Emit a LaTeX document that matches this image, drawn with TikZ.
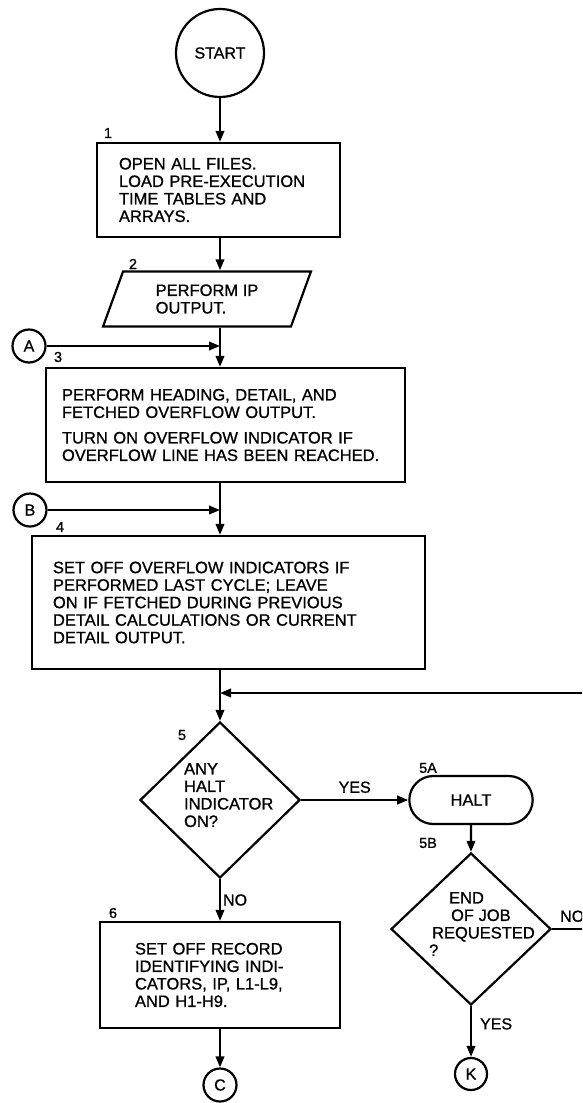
\documentclass[tikz,border=0pt]{standalone}
\usepackage{fontspec}
\setmainfont{Liberation Sans}[RawFeature={embolden=0.9}]
\usetikzlibrary{shapes.geometric}
\usetikzlibrary{shapes.misc}
\usetikzlibrary{arrows.meta}

\begin{document}
\begin{tikzpicture}[x=1pt, y=-1pt, line width=2.2pt]
    \tikzstyle flow=[-{Triangle[length=11pt,width=8.5pt]}]
    \tikzstyle process=[draw, rectangle, align=left, font=\fontsize{16.5}{17.5}\selectfont]
    \tikzstyle connector=[draw, circle, minimum size=33pt, inner sep=0pt, font=\fontsize{16}{18}\selectfont]
    \tikzstyle decision=[draw, diamond, minimum width=160pt, inner sep=0pt]
    \tikzstyle question=[align=left, anchor=north west, inner sep=0pt, font=\fontsize{16.5}{17.5}\selectfont]
    \tikzstyle stepno=[inner sep=0pt, font=\fontsize{14.5}{16}\selectfont]
    \tikzstyle answer=[inner sep=0pt, font=\fontsize{16}{18}\selectfont]
    \useasboundingbox (0,0) rectangle (582,1103);
    \clip (0,0) rectangle (582,1103);
    \coordinate (trunk) at (220,0);
    \coordinate (loopin) at (220,693);

    \node[connector, minimum size=88pt] (start) at (220,53) {START};
    \node[process, minimum height=94pt, text width=199pt, inner xsep=22pt] (openfiles) at (218.5,190)
    {OPEN ALL FILES.\\LOAD PRE-EXECUTION\\TIME TABLES AND\\ARRAYS.};
    \node[stepno] (n1) at (108,133) {1};
    \node[draw, trapezium, trapezium left angle=70, trapezium right angle=110,
      minimum width=208pt, minimum height=52pt, align=left,
      font=\fontsize{16.5}{17.5}\selectfont] (ipout) at (207,299) {PERFORM IP\\OUTPUT.};
    \node[stepno] (n2) at (133,264) {2};
    \node[connector] (conA) at (29,346) {A};
    \node[process, minimum height=114pt, text width=327pt, inner xsep=16pt] (heading) at (225.5,425)
    {PERFORM HEADING, DETAIL, AND\\FETCHED OVERFLOW OUTPUT.\\[8pt]TURN ON OVERFLOW INDICATOR IF\\OVERFLOW LINE HAS BEEN REACHED.};
    \node[stepno] (n3) at (58,357) {3};
    \node[connector] (conB) at (30,510) {B};
    \node[process, minimum height=133pt, text width=351pt, inner xsep=21pt] (overflow) at (228.5,602.5)
    {SET OFF OVERFLOW INDICATORS IF\\PERFORMED LAST CYCLE; LEAVE\\ON IF FETCHED DURING PREVIOUS\\DETAIL CALCULATIONS OR CURRENT\\DETAIL OUTPUT.};
    \node[stepno] (n4) at (60,527) {4};
    \node[decision, minimum height=156pt] (anyhalt) at (220,800) {};
    \node[question] (q5) at (183,762) {ANY\\HALT\\INDICATOR\\ON?};
    \node[stepno] (n5) at (182,735) {5};
    \node[draw, rounded rectangle, minimum width=130pt, minimum height=48pt,
      font=\fontsize{16.5}{17.5}\selectfont] (halt) at (471,800) {HALT};
    \node[stepno] (n5a) at (428,768) {5A};
    \node[decision, minimum height=152pt] (endjob) at (471,929) {};
    \node[question] (q5b) at (428,891)
    {\hspace*{20pt}END\\\hspace*{22pt}OF JOB\\\hspace*{3pt}REQUESTED\\?};
    \node[stepno] (n5b) at (428,843) {5B};
    \node[process, minimum height=106pt, text width=170pt, inner xsep=35pt] (setoff) at (220,975)
    {SET OFF RECORD\\IDENTIFYING INDI-\\CATORS, IP, L1-L9,\\AND H1-H9.};
    \node[stepno] (n6) at (113,913) {6};
    \node[connector] (conC) at (220,1085) {C};
    \node[connector, minimum size=32pt] (conK) at (471,1074) {K};

    \draw[flow] (start) -- (openfiles.north -| trunk);
    \draw[flow] (openfiles.south -| trunk) -- (ipout.north -| trunk);
    \draw[flow] (ipout.south -| trunk) -- (heading.north -| trunk);
    \draw[flow] (conA) -- (conA -| trunk);
    \draw[flow] (heading.south -| trunk) -- (overflow.north -| trunk);
    \draw[flow] (conB) -- (conB -| trunk);
    \draw[flow] (overflow.south -| trunk) -- (anyhalt);
    \draw[flow] (anyhalt) -- node[answer, midway, above=6pt] (yes5) {YES} (halt);
    \draw[flow] (anyhalt) -- node[answer, midway, right=2pt] (no5) {NO} (setoff);
    \draw[flow] (halt) -- (endjob);
    \draw[flow] (endjob) -- node[answer, pos=0.35, right=8pt] (yes5b) {YES} (conK);
    \draw[flow] (endjob.east) -- node[answer, pos=0, anchor=south west, xshift=7pt, yshift=6pt] (no5b) {NO}
      ++(50,0) |- (loopin);
    \draw[flow] (setoff) -- (conC);
\end{tikzpicture}
\end{document}
